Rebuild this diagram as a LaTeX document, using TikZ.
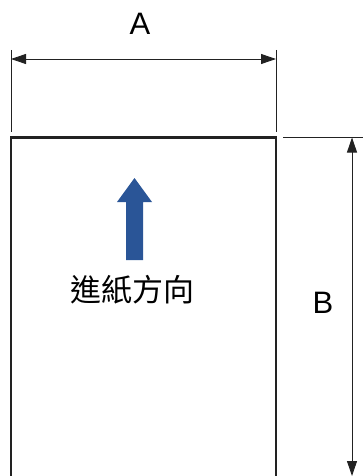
\documentclass[tikz,border=0pt]{standalone}
\usepackage{fontspec}
\setmainfont{Liberation Sans}
\newfontfamily\cjk{Noto Sans CJK TC}
\usetikzlibrary{arrows.meta}
\definecolor{feedblue}{HTML}{2A5597}
\definecolor{ink}{HTML}{222222}

\tikzset{
    paper/.style={draw=ink,line width=2.2pt},
    ext/.style={draw=ink,line width=0.6pt},
    dim/.style={draw=ink,line width=0.9pt,{Triangle[length=15pt,width=10pt]}-{Triangle[length=15pt,width=10pt]}},
    dimlabel/.style={font=\fontsize{31}{31}\selectfont,text=black,inner sep=0pt}
}

\begin{document}
\begin{tikzpicture}[x=1pt,y=-1pt]
    \useasboundingbox (0,0) rectangle (363,476);

    % paper sheet (open at the bottom)
    \coordinate (tl) at (11,137.5);
    \coordinate (tr) at (276,137.5);
    \coordinate (bl) at (11,480);
    \coordinate (br) at (276,480);
    \draw[paper] (bl) -- (tl) -- (tr) -- (br);

    % width A
    \coordinate (a1) at (11,50);
    \coordinate (a2) at (276,50);
    \coordinate (a1b) at (11,132);
    \coordinate (a2b) at (276,132);
    \draw[ext] (a1) -- (a1b);
    \draw[ext] (a2) -- (a2b);
    \coordinate (da1) at (11,59);
    \coordinate (da2) at (276,59);
    \draw[dim] (da1) -- (da2);
    \node[dimlabel] (labA) at (140,24) {A};

    % length B
    \coordinate (b1) at (283,137);
    \coordinate (b2) at (363,137);
    \draw[ext] (b1) -- (b2);
    \coordinate (db1) at (352,137.5);
    \coordinate (db2) at (352,476);
    \draw[dim] (db1) -- (db2);
    \node[dimlabel] (labB) at (323,303) {B};

    % feed direction
    \fill[feedblue] (126,260) -- (126,202) -- (117,202) -- (134.5,178)
        -- (152,202) -- (143,202) -- (143,260) -- cycle;
    \node[font=\cjk\fontsize{31}{31}\selectfont,inner sep=0pt] (feed) at (132,290) {進紙方向};
\end{tikzpicture}
\end{document}
